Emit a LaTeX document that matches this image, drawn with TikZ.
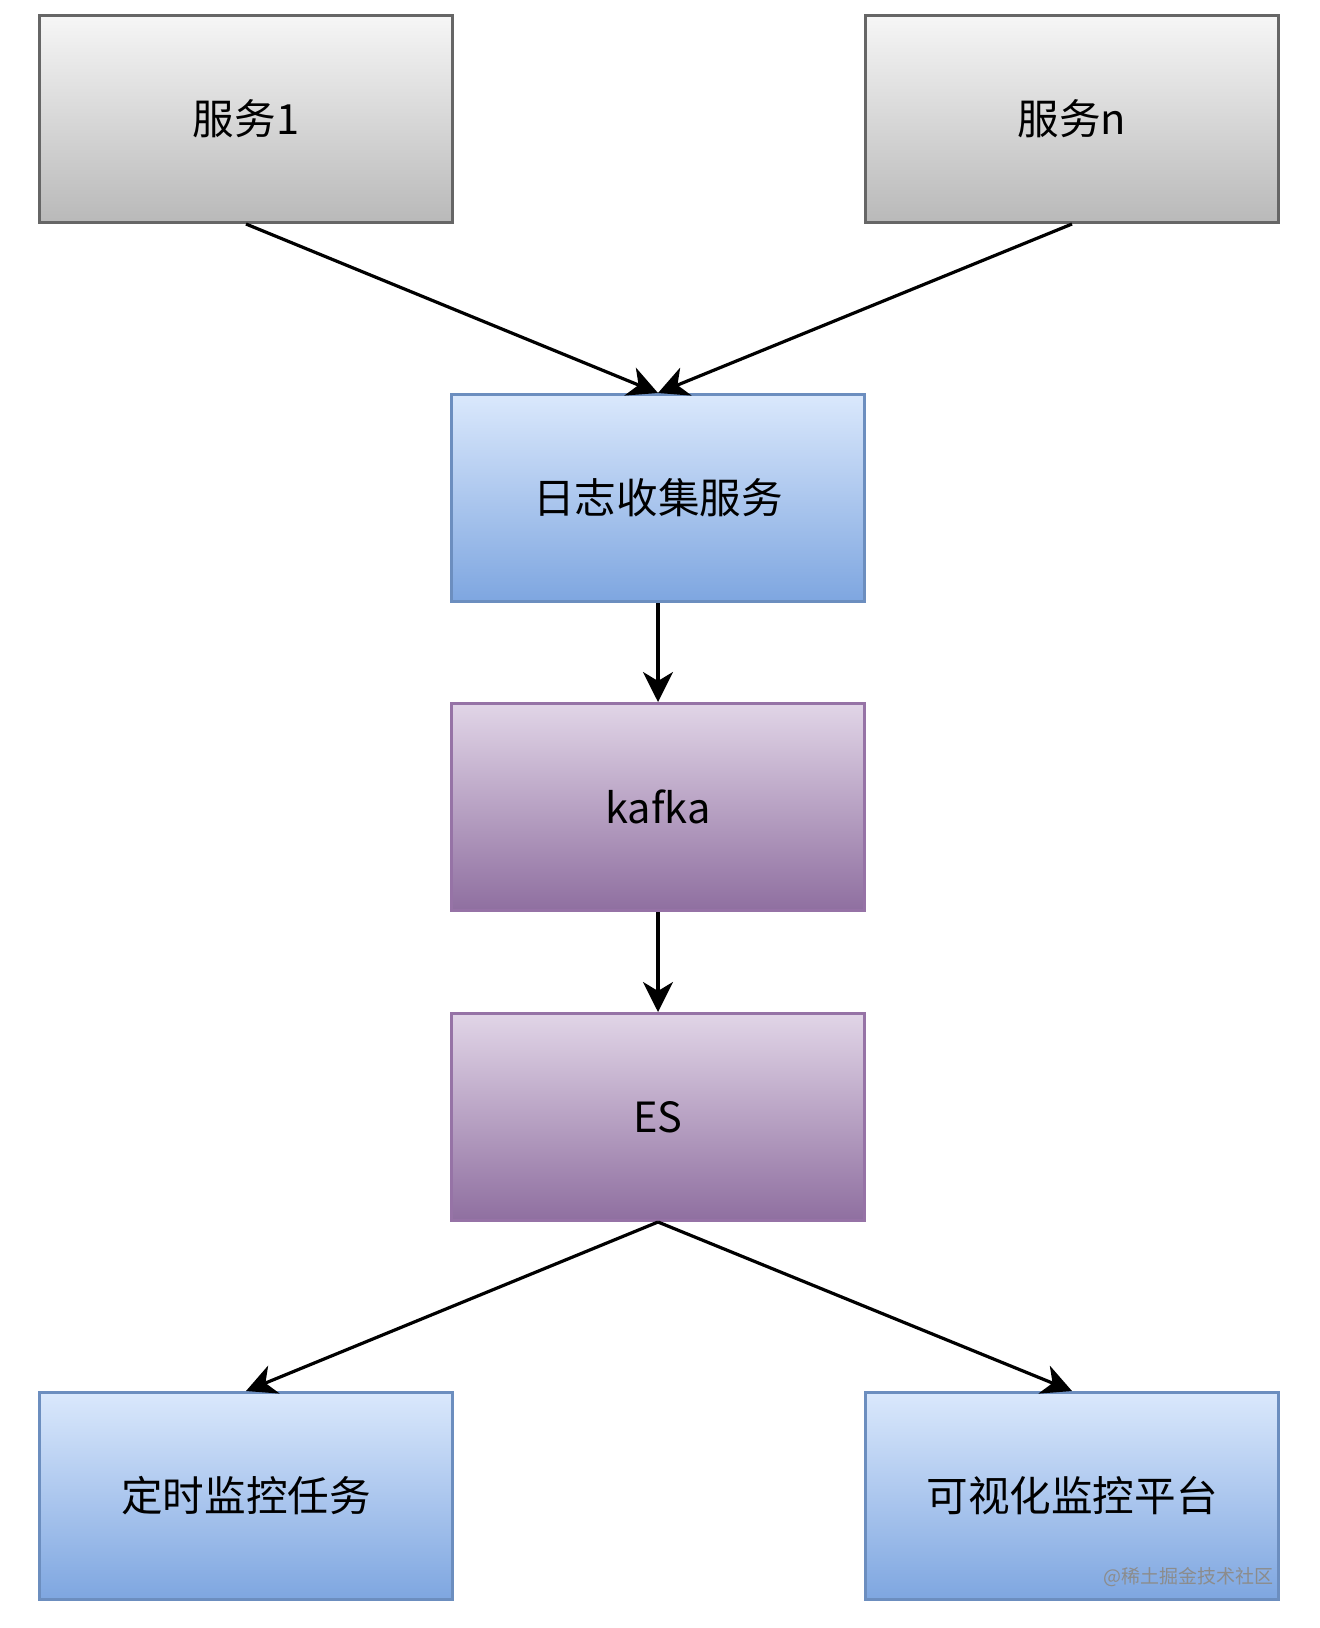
\documentclass[tikz,border=0pt]{standalone}
\usepackage{fontspec}
\setmainfont{Noto Sans CJK SC}
\usetikzlibrary{arrows.meta}

\definecolor{grayline}{HTML}{666666}
\definecolor{bluetop}{HTML}{DAE8FC}
\definecolor{bluebot}{HTML}{7EA6E0}
\definecolor{blueline}{HTML}{6C8EBF}
\definecolor{purptop}{HTML}{E1D5E7}
\definecolor{purpbot}{HTML}{8F6FA0}
\definecolor{purpline}{HTML}{9673A6}

\tikzset{
  box/.style={rectangle, minimum width=206.5pt, minimum height=103.5pt, line width=1.5pt,
    font=\fontsize{20.8}{24}\selectfont},
  graybox/.style={box, draw=grayline, top color=gray!7, bottom color=gray!55},
  bluebox/.style={box, draw=blueline, top color=bluetop, bottom color=bluebot},
  purpbox/.style={box, draw=purpline, top color=purptop, bottom color=purpbot},
  link/.style={line width=1.6pt, -{Stealth[length=15pt,width=15pt,inset=4.5pt]}}
}

\begin{document}
\begin{tikzpicture}[x=0.5pt,y=-0.5pt]
\useasboundingbox (0,0) rectangle (1320,1628);
\node[graybox] (s1) at (246,119) {服务1};
\node[graybox] (sn) at (1072,119) {服务n};
\node[bluebox] (collect) at (658,498) {日志收集服务};
\node[purpbox] (kafka) at (658,807) {kafka};
\node[purpbox] (es) at (658,1117) {ES};
\node[bluebox] (task) at (246,1496) {定时监控任务};
\node[bluebox] (plat) at (1072,1496) {可视化监控平台};
\node[anchor=east, text=black!45, font=\fontsize{9.5}{10}\selectfont] (mark) at (1281,1577) {@稀土掘金技术社区};

\draw[link] (s1.south) -- (collect.north);
\draw[link] (sn.south) -- (collect.north);
\draw[link] (collect) -- (kafka);
\draw[link] (kafka) -- (es);
\draw[link] (es.south) -- (task.north);
\draw[link] (es.south) -- (plat.north);
\end{tikzpicture}
\end{document}
